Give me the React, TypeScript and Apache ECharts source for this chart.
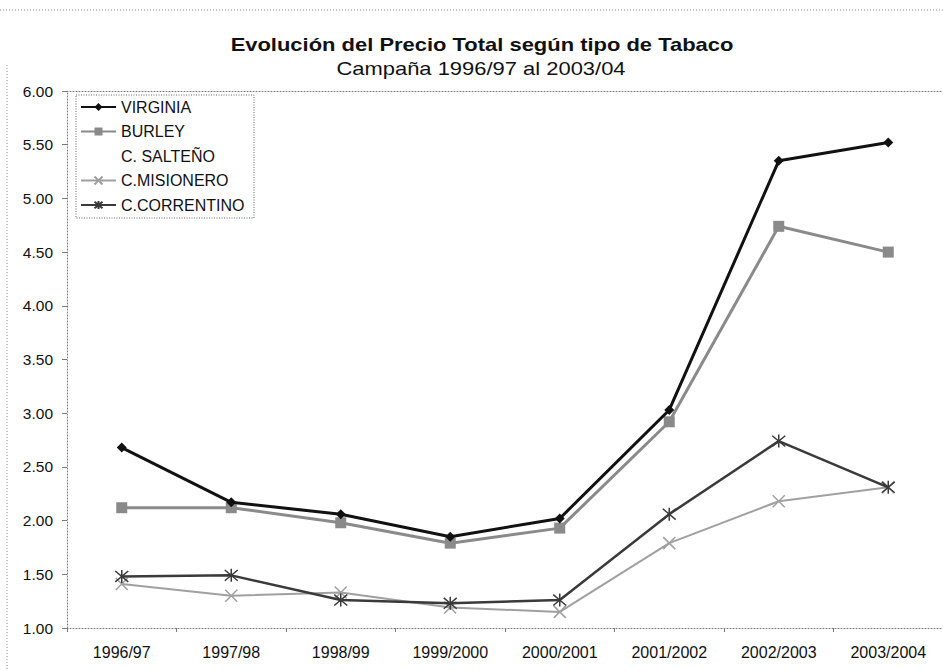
import React, { useEffect, useRef } from "react";
import * as echarts from "echarts";

const categories = ["1996/97", "1997/98", "1998/99", "1999/2000", "2000/2001", "2001/2002", "2002/2003", "2003/2004"];
const virginia = [2.68, 2.17, 2.06, 1.85, 2.02, 3.03, 5.35, 5.52];
const burley = [2.12, 2.12, 1.98, 1.79, 1.93, 2.92, 4.74, 4.5];
const salteno: (number | null)[] = [null, null, null, null, null, null, null, null];
const misionero = [1.41, 1.3, 1.33, 1.19, 1.15, 1.79, 2.18, 2.31];
const correntino = [1.48, 1.49, 1.26, 1.23, 1.26, 2.06, 2.74, 2.31];
const yTicks = { min: 1, max: 6, interval: 0.5 };

const FONT = "'Liberation Sans', Arial, sans-serif";
const X_PATH = "path://M0,0L10,10M10,0L0,10";
const STAR_PATH = "path://M0,0L10,10M10,0L0,10M5,-1L5,11";

export default function App() {
  const ref = useRef<HTMLDivElement>(null);
  useEffect(() => {
    if (!ref.current) return;
    const chart = echarts.init(ref.current, undefined, { renderer: "svg" });
    chart.setOption({
      animation: false,
      backgroundColor: "#ffffff",
      textStyle: { fontFamily: FONT },
      grid: { left: 67, right: -10, top: 91, bottom: 43 },
      legend: {
        orient: "vertical",
        left: 75,
        top: 94,
        padding: 5,
        itemWidth: 35,
        itemHeight: 10,
        itemGap: 8.5,
        textStyle: { fontFamily: FONT, fontSize: 16, color: "#111", lineHeight: 16 },
        data: [
          { name: "VIRGINIA" },
          { name: "BURLEY" },
          { name: "C. SALTEÑO", icon: "none" },
          { name: "C.MISIONERO" },
          { name: "C.CORRENTINO" },
        ],
      },
      xAxis: [
        {
          type: "category",
          data: categories,
          boundaryGap: true,
          axisLine: { lineStyle: { color: "#777", type: [1, 2], width: 1 } },
          axisTick: { show: true, length: 4, lineStyle: { color: "#777" } },
          axisLabel: { fontFamily: FONT, fontSize: 16, color: "#111", margin: 16 },
        },
        {
          type: "category",
          data: categories,
          position: "top",
          axisLine: { lineStyle: { color: "#777", type: [1, 2], width: 1 } },
          axisTick: { show: false },
          axisLabel: { show: false },
        },
      ],
      yAxis: {
        type: "value",
        min: yTicks.min,
        max: yTicks.max,
        interval: yTicks.interval,
        axisLine: { show: true, lineStyle: { color: "#777", type: [1, 2], width: 1 } },
        axisTick: { show: true, length: 5, lineStyle: { color: "#777" } },
        splitLine: { show: false },
        axisLabel: {
          fontFamily: FONT,
          fontSize: 15.5,
          color: "#111",
          margin: 14,
          formatter: (v: number) => v.toFixed(2),
        },
      },
      graphic: [
        {
          type: "line",
          shape: { x1: 0, y1: 10, x2: 943, y2: 10 },
          style: { stroke: "#888", lineWidth: 1, lineDash: [1, 2] },
        },
        {
          type: "line",
          shape: { x1: 7, y1: 65, x2: 7, y2: 671 },
          style: { stroke: "#888", lineWidth: 1, lineDash: [1, 2] },
        },
        {
          type: "rect",
          shape: { x: 76, y: 95, width: 178, height: 123 },
          style: { fill: "none", stroke: "#666", lineWidth: 1, lineDash: [1, 1.5] },
          z: 1,
        },
        {
          type: "text",
          x: 482,
          y: 45,
          scaleX: 1.22,
          style: {
            text: "Evolución del Precio Total según tipo de Tabaco",
            font: "bold 18px " + FONT,
            fill: "#111",
            align: "center",
            verticalAlign: "middle",
          },
        },
        {
          type: "text",
          x: 481,
          y: 69,
          scaleX: 1.22,
          style: {
            text: "Campaña 1996/97 al 2003/04",
            font: "18px " + FONT,
            fill: "#111",
            align: "center",
            verticalAlign: "middle",
          },
        },
      ],
      series: [
        {
          name: "VIRGINIA",
          type: "line",
          data: virginia,
          symbol: "diamond",
          symbolSize: 10,
          lineStyle: { color: "#111", width: 3 },
          itemStyle: { color: "#111" },
          z: 5,
        },
        {
          name: "BURLEY",
          type: "line",
          data: burley,
          symbol: "rect",
          symbolSize: 11,
          lineStyle: { color: "#8a8a8a", width: 3 },
          itemStyle: { color: "#8a8a8a" },
          z: 4,
        },
        {
          name: "C. SALTEÑO",
          type: "line",
          data: salteno,
          symbol: "none",
          lineStyle: { color: "#ccc", width: 0 },
          itemStyle: { color: "#ccc" },
        },
        {
          name: "C.MISIONERO",
          type: "line",
          data: misionero,
          symbol: X_PATH,
          symbolSize: 12,
          lineStyle: { color: "#a0a0a0", width: 2 },
          itemStyle: { color: "transparent", borderColor: "#a0a0a0", borderWidth: 1.5 },
          z: 3,
        },
        {
          name: "C.CORRENTINO",
          type: "line",
          data: correntino,
          symbol: STAR_PATH,
          symbolSize: 13,
          lineStyle: { color: "#3a3a3a", width: 2.5 },
          itemStyle: { color: "transparent", borderColor: "#3a3a3a", borderWidth: 1.5 },
          z: 4,
        },
      ],
    });
    return () => chart.dispose();
  }, []);
  return (
    <div
      ref={ref}
      style={{ position: "fixed", left: 0, top: 0, width: 943, height: 671, background: "#fff" }}
    />
  );
}
